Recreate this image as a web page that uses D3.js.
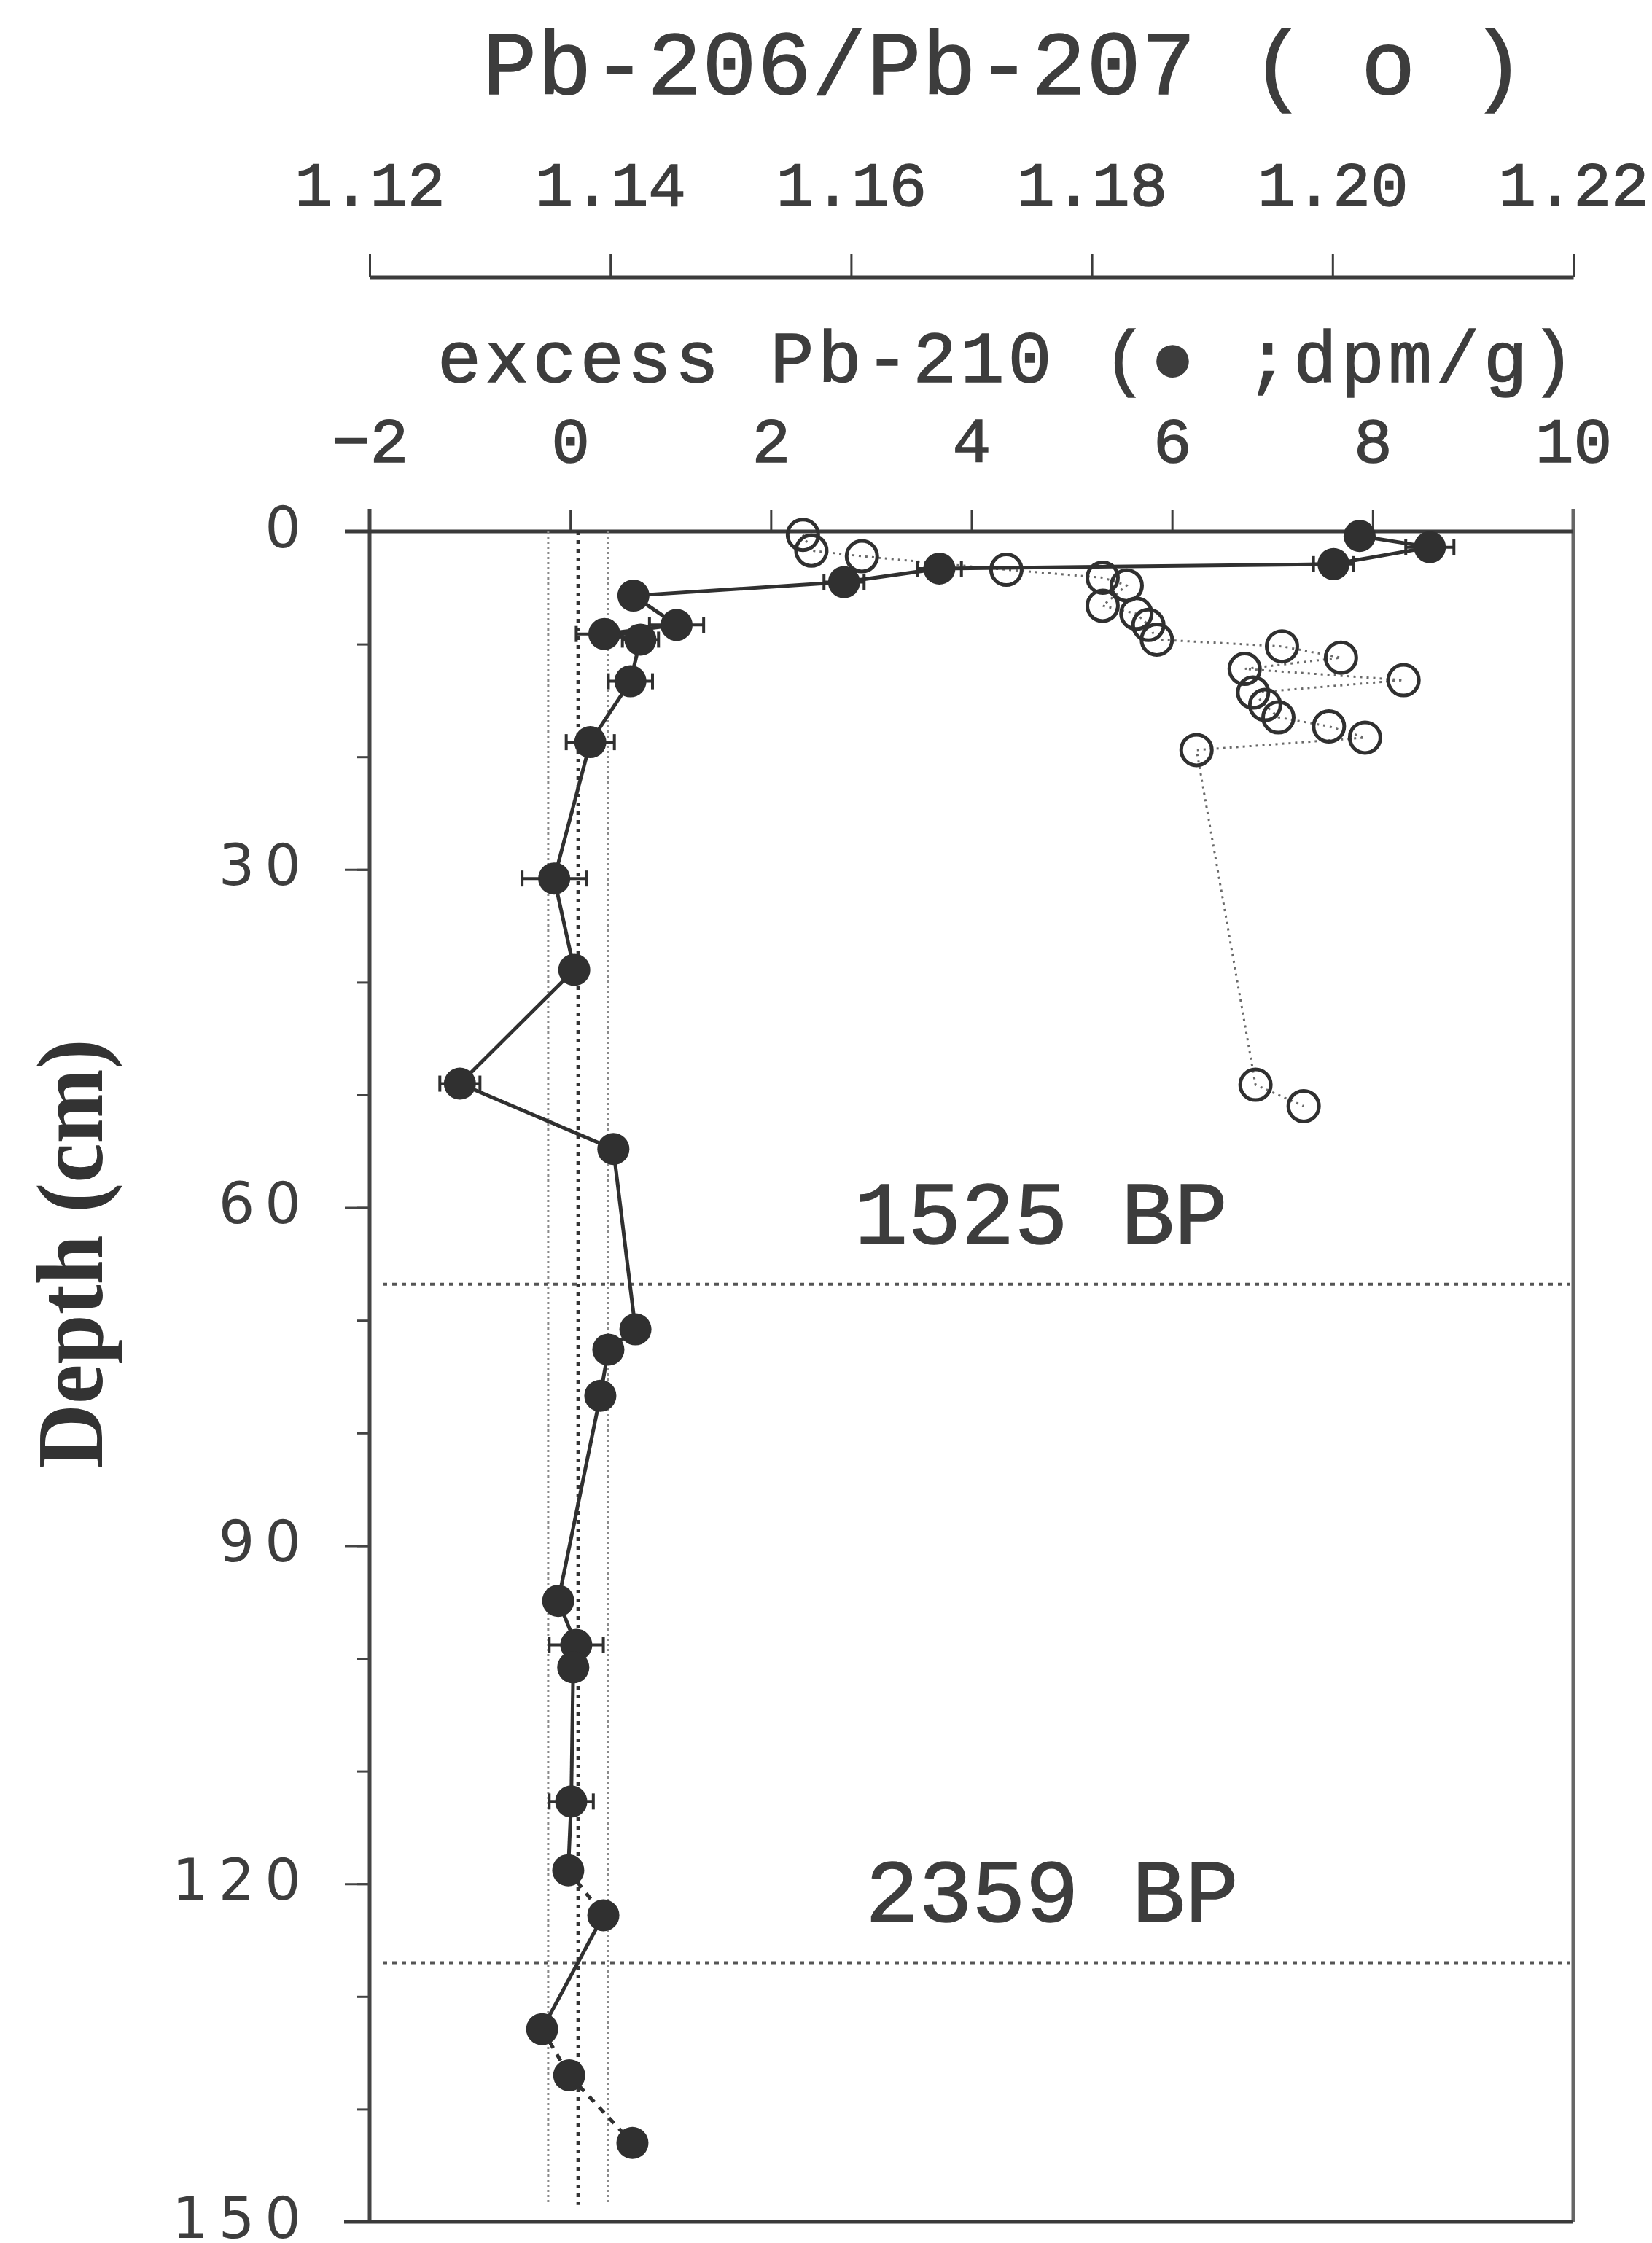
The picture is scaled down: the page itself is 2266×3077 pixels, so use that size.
<!DOCTYPE html>
<html>
<head>
<meta charset="utf-8">
<script src="https://cdn.jsdelivr.net/npm/d3@7"></script>
<style>
  html, body { margin: 0; padding: 0; background: #ffffff; }
  svg { display: block; }
</style>
</head>
<body>
<svg id="chart" width="2266" height="3077"></svg>
<script>
// Excess Pb-210 activity (filled symbols), dpm/g, against depth (cm)
const pb210Depth = [0.4, 1.4, 2.9, 3.3, 4.5, 5.7, 8.3, 9.1, 9.6, 13.3, 18.7,
  30.8, 38.9, 49.0, 54.8, 70.8, 72.6, 76.7, 94.9, 98.8, 100.8, 112.7, 118.8,
  122.8, 132.9, 137.0, 143.0];
const pb210Value = [7.87, 8.57, 7.61, 3.68, 2.73, 0.63, 1.06, 0.34, 0.70, 0.60, 0.20,
  -0.16, 0.04, -1.10, 0.43, 0.65, 0.38, 0.30, -0.12, 0.06, 0.03, 0.01, -0.02,
  0.33, -0.28, -0.01, 0.62];
const pb210Error = [0.10, 0.24, 0.20, 0.22, 0.20, 0.12, 0.27, 0.28, 0.18, 0.22, 0.24,
  0.32, 0.12, 0.20, 0.12, 0.12, 0.12, 0.12, 0.12, 0.27, 0.12, 0.22, 0.12,
  0.12, 0.12, 0.12, 0.12];
// Segments joined by a dashed line (index of the upper sample of the pair)
const pb210DashedAfter = [22, 24, 25];

// Supported-level band for Pb-210: lower bound, mean, upper bound (dpm/g)
const backgroundLevel = [-0.22, 0.08, 0.38];

// Pb-206/Pb-207 ratio (open symbols) against depth (cm)
const ratioDepth = [0.3, 1.7, 2.2, 3.4, 4.1, 4.8, 6.6, 7.3, 8.3, 9.6, 10.2, 11.2,
  12.2, 13.2, 14.3, 15.4, 16.5, 17.3, 18.3, 19.4, 49.1, 51.0];
const ratioValue = [1.1560, 1.1567, 1.1609, 1.1729, 1.1809, 1.1829, 1.1809, 1.1837,
  1.1847, 1.1854, 1.1958, 1.2007, 1.1927, 1.2059, 1.1934, 1.1944, 1.1955, 1.1997,
  1.2027, 1.1887, 1.1936, 1.1976];

// Dated horizons
const horizonDepth = [66.8, 127.0];
const horizonLabel = ["1525 BP", "2359 BP"];

// Axis ticks
const ratioTicks = [1.12, 1.14, 1.16, 1.18, 1.20, 1.22];
const activityTicks = [-2, 0, 2, 4, 6, 8, 10];
const depthTicks = [0, 30, 60, 90, 120, 150];
const depthMinorTicks = d3.range(0, 151, 10);

// ---------------------------------------------------------------------------
(function draw() {
  const INK = "#303030";
  const TEXT = "#3d3d3d";
  const MONO = "'Liberation Mono', 'DejaVu Sans Mono', monospace";

  const svg = d3.select("#chart");
  const plotL = 507, plotR = 2158, plotT = 729, plotB = 3048;

  const xAct = d3.scaleLinear().domain([-2, 10]).range([plotL, plotR]);
  const xRatio = d3.scaleLinear().domain([1.12, 1.22]).range([plotL, plotR]);
  const yDepth = d3.scaleLinear().domain([0, 150]).range([plotT, plotB]);

  // heavier type, like a typewriter impression
  const ink = sel => sel.attr("fill", TEXT).attr("stroke", TEXT).attr("stroke-width", 1.6);

  // --- Pb-206/Pb-207 axis (upper) ---
  const ratioAxisY = 380;
  const gRatio = svg.append("g").attr("transform", `translate(0,${ratioAxisY})`)
    .call(d3.axisTop(xRatio).tickValues(ratioTicks).tickFormat(d3.format(".2f"))
      .tickSize(32).tickSizeOuter(0).tickPadding(66));
  gRatio.select(".domain").attr("stroke", "#3c3c3c").attr("stroke-width", 6);
  gRatio.selectAll(".tick line").attr("stroke", "#3c3c3c").attr("stroke-width", 3);
  gRatio.selectAll(".tick text").attr("font-family", MONO).attr("font-size", 86)
    .attr("dy", 0).call(ink);

  svg.append("text").attr("x", 662).attr("y", 129)
    .attr("font-family", MONO).attr("font-size", 124)
    .attr("textLength", 1430).attr("lengthAdjust", "spacing")
    .call(ink)
    .text("Pb-206/Pb-207 ( o )");

  // --- excess Pb-210 axis (on the top frame) ---
  const gAct = svg.append("g").attr("transform", `translate(0,${plotT})`)
    .call(d3.axisTop(xAct).tickValues(activityTicks).tickFormat(d3.format("d"))
      .tickSize(29).tickSizeOuter(0).tickPadding(66));
  gAct.select(".domain").remove();
  gAct.selectAll(".tick line").attr("stroke", "#3c3c3c").attr("stroke-width", 3);
  gAct.selectAll(".tick text").attr("font-family", MONO).attr("font-size", 88)
    .attr("dy", 0).call(ink);

  svg.append("text").attr("x", 600).attr("y", 524)
    .attr("font-family", MONO).attr("font-size", 100)
    .attr("textLength", 1560).attr("lengthAdjust", "spacing")
    .call(ink)
    .text("excess Pb-210 (\u25CF  ;dpm/g)");

  // --- depth axis ---
  const gMinor = svg.append("g").attr("transform", `translate(${plotL},0)`)
    .call(d3.axisLeft(yDepth).tickValues(depthMinorTicks).tickFormat("")
      .tickSize(17).tickSizeOuter(0));
  gMinor.select(".domain").remove();
  gMinor.selectAll(".tick line").attr("stroke", "#444").attr("stroke-width", 3);

  const gDepth = svg.append("g").attr("transform", `translate(${plotL},0)`)
    .call(d3.axisLeft(yDepth).tickValues(depthTicks).tickFormat(d3.format("d"))
      .tickSize(34).tickSizeOuter(0).tickPadding(46));
  gDepth.select(".domain").remove();
  gDepth.selectAll(".tick line").attr("stroke", "#444").attr("stroke-width", 3);
  gDepth.selectAll(".tick text").attr("font-family", "'DejaVu Sans', sans-serif")
    .attr("font-size", 78).attr("letter-spacing", 14).attr("fill", TEXT)
    .attr("dy", "0.27em");

  svg.append("text")
    .attr("transform", "translate(140,1720) rotate(-90)")
    .attr("text-anchor", "middle")
    .attr("font-family", "'Liberation Serif', 'Times New Roman', serif")
    .attr("font-weight", "bold").attr("font-size", 130).attr("fill", "#333")
    .attr("textLength", 589).attr("lengthAdjust", "spacingAndGlyphs")
    .text("Depth (cm)");

  // --- frame ---
  const frame = svg.append("g").attr("fill", "none");
  frame.append("line").attr("x1", plotL).attr("x2", plotL)
    .attr("y1", plotT - 31).attr("y2", plotB)
    .attr("stroke", "#444").attr("stroke-width", 5);
  frame.append("line").attr("x1", plotR).attr("x2", plotR)
    .attr("y1", plotT - 31).attr("y2", plotB)
    .attr("stroke", "#666").attr("stroke-width", 5);
  frame.append("line").attr("x1", plotL - 34).attr("x2", plotR)
    .attr("y1", plotT).attr("y2", plotT)
    .attr("stroke", "#3a3a3a").attr("stroke-width", 5);
  frame.append("line").attr("x1", plotL - 35).attr("x2", plotR)
    .attr("y1", plotB).attr("y2", plotB)
    .attr("stroke", "#3a3a3a").attr("stroke-width", 5);

  // --- supported Pb-210 band ---
  svg.append("g").selectAll("line").data(backgroundLevel).join("line")
    .attr("x1", d => xAct(d)).attr("x2", d => xAct(d))
    .attr("y1", plotT).attr("y2", yDepth(148.5))
    .attr("stroke", (d, i) => i === 1 ? "#333" : "#8a8a8a")
    .attr("stroke-width", (d, i) => i === 1 ? 5 : 3)
    .attr("stroke-dasharray", (d, i) => i === 1 ? "5,7" : "3,4");

  // --- dated horizons ---
  const horizons = svg.append("g");
  horizons.selectAll("line").data(horizonDepth).join("line")
    .attr("x1", 525).attr("x2", plotR - 4)
    .attr("y1", d => yDepth(d)).attr("y2", d => yDepth(d))
    .attr("stroke", "#555").attr("stroke-width", 4)
    .attr("stroke-dasharray", "6,7");
  const labelX = [1172, 1187];
  horizons.selectAll("text").data(horizonLabel).join("text")
    .attr("x", (d, i) => labelX[i])
    .attr("y", (d, i) => yDepth(horizonDepth[i]) - 56)
    .attr("font-family", MONO).attr("font-size", 122)
    .attr("textLength", 512).attr("lengthAdjust", "spacing")
    .call(ink)
    .text(d => d);

  // --- Pb-206/Pb-207 profile ---
  const ratioPts = ratioDepth.map((d, i) => ({ d, v: ratioValue[i] }));
  svg.append("path").datum(ratioPts)
    .attr("fill", "none").attr("stroke", "#6a6a6a").attr("stroke-width", 3)
    .attr("stroke-dasharray", "3,6")
    .attr("d", d3.line().x(p => xRatio(p.v)).y(p => yDepth(p.d)));

  svg.append("g").selectAll("circle").data(ratioPts).join("circle")
    .attr("cx", p => xRatio(p.v)).attr("cy", p => yDepth(p.d)).attr("r", 21)
    .attr("fill", "none").attr("stroke", INK).attr("stroke-width", 5);

  // --- excess Pb-210 profile ---
  const actPts = pb210Depth.map((d, i) => ({ d, v: pb210Value[i], e: pb210Error[i] }));
  const segs = actPts.slice(1).map((p, i) => ({ a: actPts[i], b: p, dashed: pb210DashedAfter.includes(i) }));
  svg.append("g").selectAll("line").data(segs).join("line")
    .attr("x1", s => xAct(s.a.v)).attr("y1", s => yDepth(s.a.d))
    .attr("x2", s => xAct(s.b.v)).attr("y2", s => yDepth(s.b.d))
    .attr("stroke", INK).attr("stroke-width", 5)
    .attr("stroke-dasharray", s => s.dashed ? "10,10" : null);

  const err = svg.append("g").attr("stroke", INK).attr("stroke-width", 4);
  err.selectAll("line.bar").data(actPts).join("line").attr("class", "bar")
    .attr("x1", p => xAct(p.v - p.e)).attr("x2", p => xAct(p.v + p.e))
    .attr("y1", p => yDepth(p.d)).attr("y2", p => yDepth(p.d));
  err.selectAll("line.capl").data(actPts).join("line").attr("class", "capl")
    .attr("x1", p => xAct(p.v - p.e)).attr("x2", p => xAct(p.v - p.e))
    .attr("y1", p => yDepth(p.d) - 11).attr("y2", p => yDepth(p.d) + 11);
  err.selectAll("line.capr").data(actPts).join("line").attr("class", "capr")
    .attr("x1", p => xAct(p.v + p.e)).attr("x2", p => xAct(p.v + p.e))
    .attr("y1", p => yDepth(p.d) - 11).attr("y2", p => yDepth(p.d) + 11);

  svg.append("g").selectAll("circle").data(actPts).join("circle")
    .attr("cx", p => xAct(p.v)).attr("cy", p => yDepth(p.d)).attr("r", 22)
    .attr("fill", INK);
})();
</script>
</body>
</html>
